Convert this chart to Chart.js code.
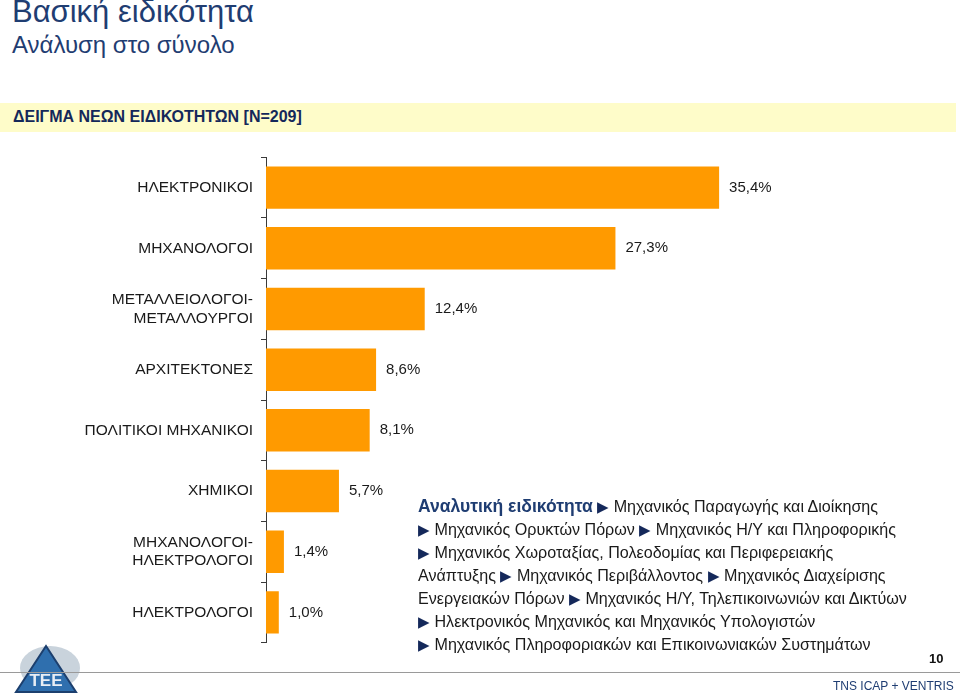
<!DOCTYPE html>
<html>
<head>
<meta charset="utf-8">
<script src="https://cdn.jsdelivr.net/npm/chart.js@4"></script>
<style>
  body { margin: 0; width: 960px; height: 695px; background: #fff; font-family: "Liberation Sans", Arial, sans-serif; position: relative; overflow: hidden; }
  .title { position: absolute; left: 12px; top: -6px; font-size: 31px; color: #1f3d72; }
  .subtitle { position: absolute; left: 12px; top: 31px; font-size: 24px; color: #1f3d72; }
  .band { position: absolute; left: 0; top: 103px; width: 956px; height: 29px; background: #fefcc9; }
  .band span { position: absolute; left: 13px; top: 5px; font-size: 16px; font-weight: bold; color: #14285a; }
  #wrap { position: absolute; left: 0; top: 140px; width: 960px; height: 520px; }
  .notes { position: absolute; left: 418px; top: 495px; font-size: 16.1px; line-height: 22px; color: #1a1a1a; white-space: nowrap; }
  .notes b { color: #1f3d72; font-size: 17.5px; }
  .notes i { font-style: normal; color: #14285a; font-size: 15px; }
  .page { position: absolute; left: 929px; top: 651px; font-size: 13px; font-weight: bold; color: #111; }
  .rule { position: absolute; left: 0; top: 672px; width: 960px; height: 1px; background: #9a9a9a; }
  .brand { position: absolute; left: 833px; top: 679px; font-size: 12px; color: #1f3d72; }
  .logo { position: absolute; left: 10px; top: 644px; }
</style>
</head>
<body>
<div class="title">Βασική ειδικότητα</div>
<div class="subtitle">Ανάλυση στο σύνολο</div>
<div class="band"><span>ΔΕΙΓΜΑ ΝΕΩΝ ΕΙΔΙΚΟΤΗΤΩΝ [Ν=209]</span></div>

<div id="wrap"><canvas id="myChart"></canvas></div>

<div class="notes">
  <b>Αναλυτική ειδικότητα</b> <i>▶</i> Μηχανικός Παραγωγής και Διοίκησης<br>
  <i>▶</i> Μηχανικός Ορυκτών Πόρων <i>▶</i> Μηχανικός Η/Υ και Πληροφορικής<br>
  <i>▶</i> Μηχανικός Χωροταξίας, Πολεοδομίας και Περιφερειακής<br>
  Ανάπτυξης <i>▶</i> Μηχανικός Περιβάλλοντος <i>▶</i> Μηχανικός Διαχείρισης<br>
  Ενεργειακών Πόρων <i>▶</i> Μηχανικός Η/Υ, Τηλεπικοινωνιών και Δικτύων<br>
  <i>▶</i> Ηλεκτρονικός Μηχανικός και Μηχανικός Υπολογιστών<br>
  <i>▶</i> Μηχανικός Πληροφοριακών και Επικοινωνιακών Συστημάτων
</div>

<svg class="logo" width="72" height="50" viewBox="0 0 72 50">
  <ellipse cx="40" cy="24" rx="30" ry="22" fill="#c9d3dc"/>
  <polygon points="36,2 66,48 6,48" fill="#2f6fae" stroke="#1c3f6e" stroke-width="2"/>
  <text x="36" y="42" text-anchor="middle" font-family="Liberation Sans" font-weight="bold" font-size="17" fill="#e8eef5">ΤΕΕ</text>
</svg>
<div class="page">10</div>
<div class="rule"></div>
<div class="brand">TNS ICAP + VENTRIS</div>

<script>
// categories and shares (%)
const categories = [
  'ΗΛΕΚΤΡΟΝΙΚΟΙ',
  'ΜΗΧΑΝΟΛΟΓΟΙ',
  ['ΜΕΤΑΛΛΕΙΟΛΟΓΟΙ-', 'ΜΕΤΑΛΛΟΥΡΓΟΙ'],
  'ΑΡΧΙΤΕΚΤΟΝΕΣ',
  'ΠΟΛΙΤΙΚΟΙ ΜΗΧΑΝΙΚΟΙ',
  'ΧΗΜΙΚΟΙ',
  ['ΜΗΧΑΝΟΛΟΓΟΙ-', 'ΗΛΕΚΤΡΟΛΟΓΟΙ'],
  'ΗΛΕΚΤΡΟΛΟΓΟΙ'
];
const shares = [35.4, 27.3, 12.4, 8.6, 8.1, 5.7, 1.4, 1.0];
const xMax = 50;

const axisColor = '#3a3a3a';

// value labels next to each bar
const valueLabels = {
  id: 'valueLabels',
  afterDatasetsDraw(chart) {
    const ctx = chart.ctx;
    const meta = chart.getDatasetMeta(0);
    ctx.save();
    ctx.font = '15px "Liberation Sans", Arial, sans-serif';
    ctx.fillStyle = '#1a1a1a';
    ctx.textAlign = 'left';
    ctx.textBaseline = 'middle';
    meta.data.forEach((bar, i) => {
      const txt = shares[i].toFixed(1).replace('.', ',') + '%';
      ctx.fillText(txt, bar.x + 10, bar.y);
    });
    ctx.restore();
  }
};

const ctx = document.getElementById('myChart').getContext('2d');
new Chart(ctx, {
  type: 'bar',
  data: {
    labels: categories,
    datasets: [{
      data: shares,
      backgroundColor: '#ff9a00',
      borderWidth: 0,
      barPercentage: 0.7,
      categoryPercentage: 1
    }]
  },
  options: {
    indexAxis: 'y',
    responsive: true,
    maintainAspectRatio: false,
    animation: false,
    layout: { padding: { top: 10, bottom: 10, left: 0, right: 54 } },
    plugins: {
      legend: { display: false },
      tooltip: { enabled: false }
    },
    scales: {
      x: {
        display: false,
        min: 0,
        max: xMax
      },
      y: {
        afterFit(scale) { scale.width = 266; },
        border: { display: true, color: axisColor, width: 1 },
        grid: {
          offset: true,
          drawOnChartArea: false,
          drawTicks: true,
          tickLength: 5,
          color: axisColor
        },
        ticks: {
          padding: 8,
          color: '#1a1a1a',
          font: { family: '"Liberation Sans", Arial, sans-serif', size: 15.5 }
        }
      }
    }
  },
  plugins: [valueLabels]
});
</script>
</body>
</html>
